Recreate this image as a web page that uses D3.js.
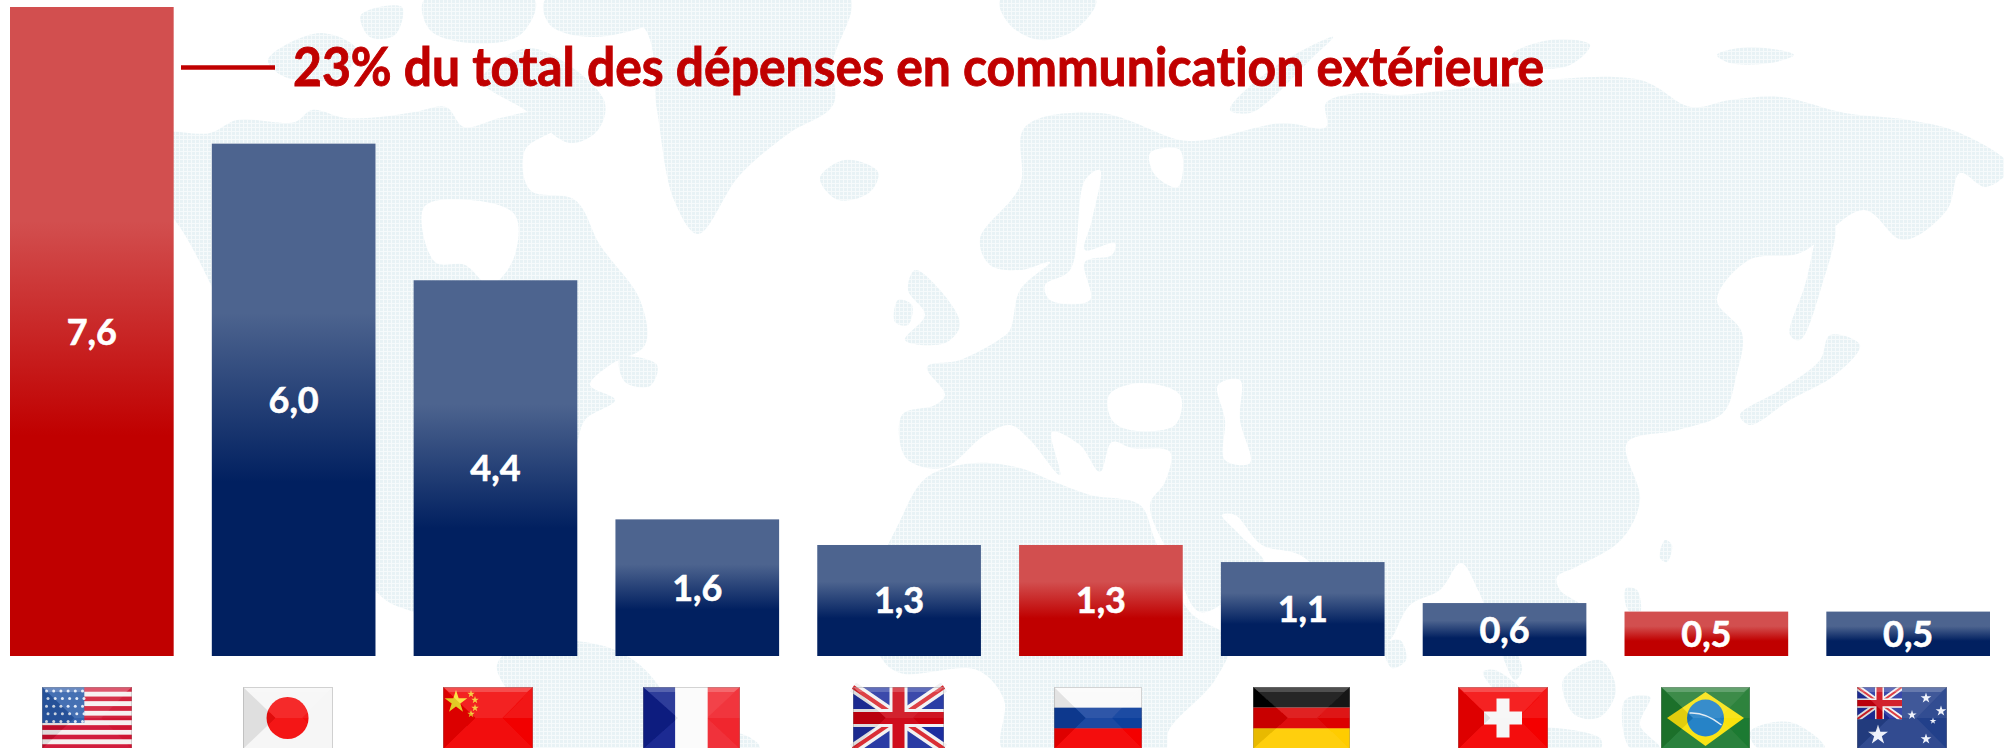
<!DOCTYPE html>
<html lang="fr"><head><meta charset="utf-8">
<script src="https://cdn.jsdelivr.net/npm/d3@7"></script>
<style>html,body{margin:0;padding:0;background:#fff;overflow:hidden}svg{display:block}text{font-family:Lato,"Open Sans",sans-serif;font-weight:700;font-variant-ligatures:none}</style>
</head><body><svg id="c" width="2004" height="748"></svg>
<script>
// ---- chart data
const countries = ["États-Unis","Japon","Chine","France","Royaume-Uni","Russie","Allemagne","Suisse","Brésil","Australie"];
const values = [7.6,6.0,4.4,1.6,1.3,1.3,1.1,0.62,0.52,0.52];
const highlighted = ["États-Unis","Russie","Brésil"];
const flagKeys = ["us","jp","cn","fr","uk","ru","de","ch","br","au"];
const calloutText = "23% du total des dépenses en communication extérieure";

// ---- layout constants
const W = 2004, H = 748, base = 656, top0 = 7;
const flagLefts = [42,243,443,643,853,1054,1253,1458,1661,1857];
const flagWidths = [90,90,90,97,91,88,97,90,89,90];
const flagTop = 687, flagH = 62;

// ---- decorative world-map background outlines (traced)
const landShapes = [
 [[150,135],[210,133],[237,120],[295,122],[312,110],[345,118],[380,117],[415,112],[446,107],[464,127],[500,118],[540,112],[560,125],[525,150],[530,190],[575,200],[600,245],[640,300],[645,345],[610,365],[590,385],[615,400],[585,420],[575,450],[560,475],[540,520],[540,560],[525,600],[505,560],[470,570],[450,590],[430,620],[413,612],[383,598],[330,520],[260,400],[211,285],[173,218],[130,180]],
 [[497,665],[525,642],[565,640],[610,648],[640,665],[665,695],[680,725],[700,732],[745,735],[760,748],[535,750],[520,710]],
 [[588,-5],[645,29],[657,110],[674,200],[698,234],[739,176],[788,134],[833,105],[833,62],[849,-5]],
 [[820,178],[845,160],[878,172],[870,192],[838,200]],
 [[915,270],[940,290],[960,325],[945,343],[905,340],[925,315],[908,290]],
 [[898,300],[912,305],[908,325],[895,322]],
 [[482,80],[530,48],[604,100],[598,130],[570,143],[525,110]],
 [[424,0],[535,0],[520,35],[470,43],[430,30]],
 [[545,0],[700,0],[650,25],[590,37],[550,25]],
 [[361,15],[402,7],[395,35],[370,37]],
 [[268,60],[320,33],[357,50],[340,77],[285,77]],
 [[620,358],[657,365],[650,386],[625,382]],
 // Eurasia
 [[902,415],[906,458],[943,468],[985,435],[1010,425],[1030,440],[1060,475],[1052,432],[1080,445],[1100,472],[1112,442],[1132,448],[1170,452],[1165,482],[1150,505],[1175,565],[1200,612],[1240,590],[1265,565],[1240,535],[1222,515],[1235,515],[1262,545],[1300,555],[1335,590],[1375,650],[1390,640],[1410,605],[1440,590],[1461,563],[1478,590],[1490,620],[1515,680],[1522,670],[1515,640],[1550,650],[1575,640],[1585,610],[1560,590],[1557,577],[1576,567],[1621,540],[1640,500],[1627,443],[1678,430],[1723,413],[1736,377],[1742,333],[1717,300],[1749,260],[1800,253],[1864,210],[1903,240],[1947,210],[1960,173],[1986,187],[2010,167],[1960,133],[1909,120],[1845,113],[1781,97],[1730,100],[1691,107],[1640,80],[1512,83],[1448,90],[1400,95],[1360,93],[1326,103],[1326,127],[1282,123],[1205,140],[1180,140],[1100,113],[1025,127],[1020,186],[980,239],[990,265],[1020,270],[1050,262],[1020,290],[1010,330],[1000,339],[960,360],[927,367],[945,395],[935,405]],
 // Africa
 [[898,525],[927,477],[975,463],[1020,468],[1050,480],[1090,495],[1140,505],[1155,540],[1190,612],[1230,640],[1215,680],[1169,730],[1164,752],[1004,752],[1004,700],[977,670],[900,673],[880,656],[868,600]],
 // northern and eastern islands
 [[1000,0],[1096,0],[1075,30],[1040,40],[1010,25]],
 [[1230,110],[1270,70],[1333,37],[1310,60],[1270,100],[1250,113]],
 [[1512,55],[1550,40],[1590,45],[1570,65],[1530,67]],
 [[1717,55],[1750,47],[1794,55],[1770,63],[1730,63]],
 [[1825,215],[1835,225],[1822,285],[1800,340],[1790,335],[1805,285]],
 [[1830,335],[1860,345],[1835,375],[1790,400],[1750,425],[1740,415],[1780,390],[1820,360]],
 [[1384,645],[1400,640],[1406,660],[1392,668]],
 [[1483,672],[1495,670],[1530,700],[1527,710],[1505,700]],
 [[1563,680],[1600,660],[1616,690],[1600,717],[1575,715]],
 [[1625,700],[1650,697],[1640,725],[1660,748],[1630,748]],
 [[1750,732],[1790,722],[1825,748],[1760,750]],
 [[1626,588],[1637,590],[1640,613],[1628,610]],
 [[1665,540],[1672,545],[1667,562],[1660,558]],
 [[1520,730],[1600,738],[1600,750],[1530,750]]
];
const seaShapes = [
 [[424,207],[470,200],[515,215],[513,260],[490,285],[465,265],[435,262]],
 [[1150,153],[1180,150],[1178,187],[1155,175]],
 [[1085,180],[1100,170],[1092,220],[1085,250],[1115,243],[1112,255],[1085,262],[1090,300],[1050,300],[1045,285],[1070,270]],
 [[1109,395],[1140,383],[1180,395],[1175,425],[1130,430],[1112,420]],
 [[1218,385],[1240,380],[1240,420],[1250,463],[1225,460],[1225,420]]
];

const svg = d3.select("#c");
const defs = svg.append("defs");

// grid texture for the map
const pat = defs.append("pattern").attr("id","dots").attr("width",4).attr("height",4).attr("patternUnits","userSpaceOnUse");
pat.append("rect").attr("width",4).attr("height",4).attr("fill","#f6fafb");
pat.append("rect").attr("width",3).attr("height",3).attr("fill","#e8f2f5");

// flag softening
defs.append("filter").attr("id","soft").attr("x","-5%").attr("y","-5%").attr("width","110%").attr("height","110%")
  .append("feGaussianBlur").attr("stdDeviation",0.55);

// bar gradients
function grad(id, pale, deep){
  const g = defs.append("linearGradient").attr("id",id).attr("x1",0).attr("y1",0).attr("x2",0).attr("y2",1);
  g.append("stop").attr("offset","33%").attr("stop-color",pale);
  g.append("stop").attr("offset","66%").attr("stop-color",deep);
}
grad("gBlue","#4d648f","#012060");
grad("gRed","#d24f4f","#c00000");

svg.append("rect").attr("width",W).attr("height",H).attr("fill","#fff");

// map
const outline = d3.line().curve(d3.curveCatmullRomClosed.alpha(0.5));
const map = svg.append("g");
map.selectAll("path.land").data(landShapes).join("path").attr("class","land").attr("d",outline).attr("fill","url(#dots)");
map.selectAll("path.sea").data(seaShapes).join("path").attr("class","sea").attr("d",outline).attr("fill","#fff");

// scales
const x = d3.scaleBand().domain(countries).range([10,1990]).paddingInner(0.189).paddingOuter(0);
const y = d3.scaleLinear().domain([0,7.6]).range([base,top0]);
const fmt = d3.formatLocale({decimal:",",thousands:" ",grouping:[3],currency:["","€"]}).format(".1f");
const rows = countries.map((c,i)=>({c,v:values[i],key:flagKeys[i],fx:flagLefts[i],fw:flagWidths[i]}));

// bars
svg.append("g").selectAll("rect").data(rows).join("rect")
  .attr("x",d=>x(d.c)).attr("width",x.bandwidth())
  .attr("y",d=>y(d.v)).attr("height",d=>base-y(d.v))
  .attr("fill",d=>highlighted.includes(d.c)?"url(#gRed)":"url(#gBlue)");

// value labels
svg.append("g").selectAll("text").data(rows).join("text")
  .attr("x",d=>x(d.c)+x.bandwidth()/2)
  .attr("y",d=>(y(d.v)+base)/2+13)
  .attr("text-anchor","middle").attr("fill","#fff").attr("font-size",36)
  .attr("stroke","#fff").attr("stroke-width",0.6)
  .text(d=>fmt(d.v));

// callout
svg.append("line").attr("x1",181).attr("x2",275).attr("y1",67.5).attr("y2",67.5).attr("stroke","#c00000").attr("stroke-width",4.5);
svg.append("text").attr("x",293).attr("y",86).attr("fill","#c00000").attr("font-size",53)
  .attr("stroke","#c00000").attr("stroke-width",0.9)
  .attr("textLength",1251).attr("lengthAdjust","spacingAndGlyphs").text(calloutText);

// flags
const star = (g,cx,cy,r,fill,pts)=>g.append("path")
  .attr("d",d3.symbol().type(d3.symbolStar).size(r*r*2.2)()).attr("transform",`translate(${cx},${cy}) rotate(${pts||0})`).attr("fill",fill);
const rect = (g,a,b,c,d,f)=>g.append("rect").attr("x",a).attr("y",b).attr("width",c).attr("height",d).attr("fill",f);
function jack(g,w,h){
  rect(g,0,0,w,h,"#1d2f9f");
  const l=(a,b,c,d,s,col)=>g.append("line").attr("x1",a).attr("y1",b).attr("x2",c).attr("y2",d).attr("stroke",col).attr("stroke-width",s);
  const t=h/62;
  l(0,0,w,h,11*t,"#f2f2f2"); l(w,0,0,h,11*t,"#f2f2f2");
  l(0,0,w,h,4*t,"#d8232a"); l(w,0,0,h,4*t,"#d8232a");
  rect(g,w/2-9*t,0,18*t,h,"#f2f2f2"); rect(g,0,h/2-9*t,w,18*t,"#f2f2f2");
  rect(g,w/2-6*t,0,12*t,h,"#cc0010"); rect(g,0,h/2-6*t,w,12*t,"#cc0010");
}
const drawers = {
  us(g,w,h){
    d3.range(13).forEach(i=>rect(g,0,i*h/13,w,h/13+.2,i%2?"#f6f0f0":"#cf1230"));
    rect(g,0,0,w*.47,h*.58,"#2a5aa8");
    d3.range(5).forEach(r=>d3.range(6).forEach(c=>g.append("circle")
      .attr("cx",4.5+c*7.2+(r%2?1.5:0)).attr("cy",4+r*7.6).attr("r",1.5).attr("fill","#dfe8f6")));
  },
  jp(g,w,h){ rect(g,0,0,w,h,"#f6f6f6"); g.append("circle").attr("cx",w*.495).attr("cy",h/2).attr("r",21).attr("fill","#f40a0a"); },
  cn(g,w,h){
    rect(g,0,0,w,h,"#f20000");
    star(g,13,15,8.5,"#f8e02a");
    [[28,7],[32,13],[32,21],[28,27]].forEach(p=>star(g,p[0],p[1],2.8,"#f4c82a"));
  },
  fr(g,w,h){ rect(g,0,0,w/3,h,"#0f1f8c"); rect(g,w/3,0,w/3+.5,h,"#fbfbfb"); rect(g,2*w/3,0,w/3,h,"#f0262e"); },
  uk(g,w,h){ jack(g,w,h); },
  ru(g,w,h){ rect(g,0,0,w,h/3,"#fafafa"); rect(g,0,h/3,w,h/3+.5,"#0f3f9c"); rect(g,0,2*h/3,w,h/3,"#f40000"); },
  de(g,w,h){ rect(g,0,0,w,h/3,"#050505"); rect(g,0,h/3,w,h/3+.5,"#dc0000"); rect(g,0,2*h/3,w,h/3,"#ffcc00"); },
  ch(g,w,h){
    rect(g,0,0,w,h,"#f40000");
    rect(g,w/2-19,h/2-6.5,38,13,"#f6f6f6"); rect(g,w/2-6.5,h/2-19.5,13,39,"#f6f6f6");
  },
  br(g,w,h){
    rect(g,0,0,w,h,"#1f7a30");
    g.append("path").attr("d",d3.line()([[6,h/2],[w/2,5],[w-6,h/2],[w/2,h-3]])+"Z").attr("fill","#f9e20a");
    g.append("circle").attr("cx",w/2).attr("cy",h/2).attr("r",18.5).attr("fill","#1a7cc4");
    g.append("path").attr("d",`M${w/2-16},${h/2-5}Q${w/2},${h/2-6} ${w/2+16},${h/2+7}`).attr("stroke","#dfeaf2").attr("stroke-width",1.5).attr("fill","none");
  },
  au(g,w,h){
    rect(g,0,0,w,h,"#24408a");
    const s=g.append("svg").attr("width",w/2).attr("height",h*.52).attr("viewBox",`0 0 ${w} ${h}`).attr("preserveAspectRatio","none");
    jack(s,w,h);
    star(g,21,48,7.5,"#eef2fb");
    [[69,11,4],[84,24,4],[76,34,2.5],[55,28,3.5],[69,52,4]].forEach(p=>star(g,p[0],p[1],p[2],"#eef2fb"));
  }
};
function gloss(g,w,h){
  const poly=(pts,f,o)=>g.append("path").attr("d",d3.line()(pts)+"Z").attr("fill",f).attr("opacity",o);
  poly([[0,0],[w,0],[w*.66,h*.5],[w*.36,h*.5]],"#fff",0.13);
  poly([[0,0],[w,0],[w-6,5],[6,5]],"#fff",0.2);
  poly([[0,0],[w*.36,h*.5],[0,h]],"#000",0.09);
  poly([[w,0],[w,h*.5],[w*.66,h*.5]],"#fff",0.07);
  poly([[w*.36,h*.5],[w*.66,h*.5],[w,h],[0,h]],"#fff",0.06);
  g.append("rect").attr("x",.5).attr("y",.5).attr("width",w-1).attr("height",h-1).attr("fill","none").attr("stroke","#8a8a8a").attr("stroke-opacity",.35);
}
svg.append("g").selectAll("g").data(rows).join("g")
  .attr("transform",d=>`translate(${d.fx},${flagTop})`)
  .attr("filter","url(#soft)")
  .each(function(d){ const g=d3.select(this); drawers[d.key](g,d.fw,flagH); gloss(g,d.fw,flagH); });
</script></body></html>
